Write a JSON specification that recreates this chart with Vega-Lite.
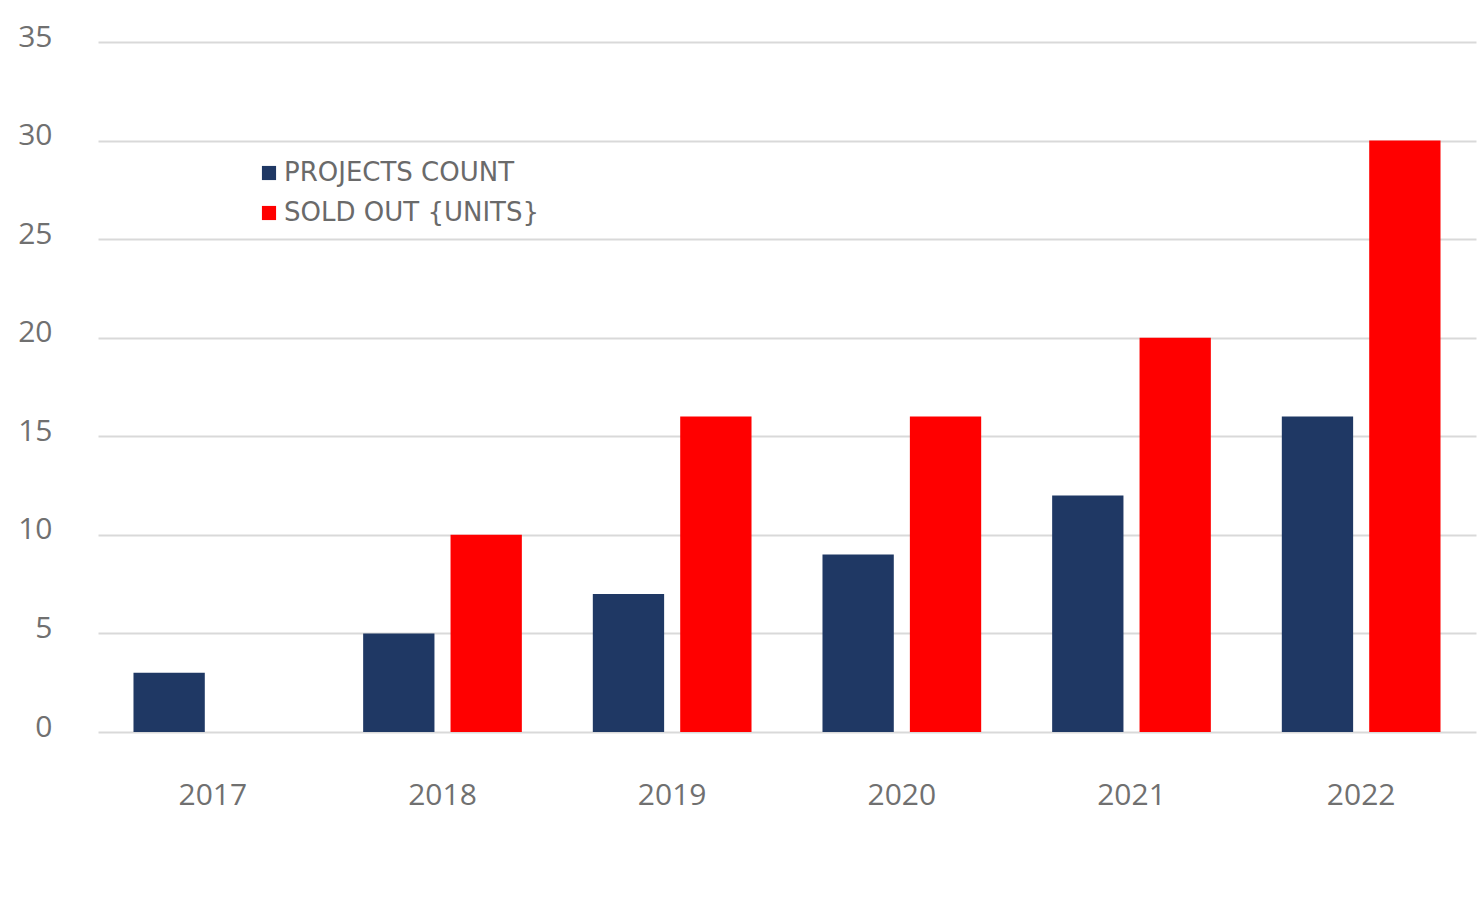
{
  "$schema": "https://vega.github.io/schema/vega-lite/v6.json",
  "autosize": "none",
  "width": 1378,
  "height": 690,
  "padding": {"left": 98, "top": 42, "right": 5, "bottom": 167},
  "background": "white",
  "config": {
    "view": {"stroke": null},
    "font": "Open Sans"
  },
  "data": {
    "values": [
      {"year": "2017", "series": "PROJECTS COUNT", "value": 3},
      {"year": "2018", "series": "PROJECTS COUNT", "value": 5},
      {"year": "2018", "series": "SOLD OUT {UNITS}", "value": 10},
      {"year": "2019", "series": "PROJECTS COUNT", "value": 7},
      {"year": "2019", "series": "SOLD OUT {UNITS}", "value": 16},
      {"year": "2020", "series": "PROJECTS COUNT", "value": 9},
      {"year": "2020", "series": "SOLD OUT {UNITS}", "value": 16},
      {"year": "2021", "series": "PROJECTS COUNT", "value": 12},
      {"year": "2021", "series": "SOLD OUT {UNITS}", "value": 20},
      {"year": "2022", "series": "PROJECTS COUNT", "value": 16},
      {"year": "2022", "series": "SOLD OUT {UNITS}", "value": 30}
    ]
  },
  "mark": {"type": "bar"},
  "encoding": {
    "x": {
      "field": "year",
      "type": "nominal",
      "scale": {"paddingInner": 0.309, "paddingOuter": 0.1545},
      "axis": {
        "title": null,
        "labelAngle": 0,
        "domain": false,
        "ticks": false,
        "labelFontSize": 30,
        "labelColor": "#707070",
        "labelPadding": 48,
        "labelBaseline": "top"
      }
    },
    "xOffset": {
      "field": "series",
      "type": "nominal",
      "scale": {"paddingInner": 0.184, "paddingOuter": 0}
    },
    "y": {
      "field": "value",
      "type": "quantitative",
      "scale": {"domain": [0, 35], "nice": false},
      "axis": {
        "title": null,
        "values": [0, 5, 10, 15, 20, 25, 30, 35],
        "domain": false,
        "ticks": false,
        "labelFontSize": 30,
        "labelColor": "#707070",
        "labelPadding": 46,
        "labelOffset": -5,
        "gridColor": "#d9d9d9",
        "gridWidth": 2
      }
    },
    "color": {
      "field": "series",
      "type": "nominal",
      "scale": {"domain": ["PROJECTS COUNT", "SOLD OUT {UNITS}"], "range": ["#1f3864", "#ff0000"]},
      "legend": {
        "title": null,
        "orient": "none",
        "legendX": 158,
        "legendY": 118,
        "symbolType": "square",
        "symbolSize": 200,
        "symbolStrokeWidth": 0,
        "labelFont": "DejaVu Sans",
        "labelFontSize": 26,
        "labelColor": "#6a6a6a",
        "labelOffset": 2,
        "rowPadding": 14,
        "labelLimit": 400
      }
    }
  }
}
